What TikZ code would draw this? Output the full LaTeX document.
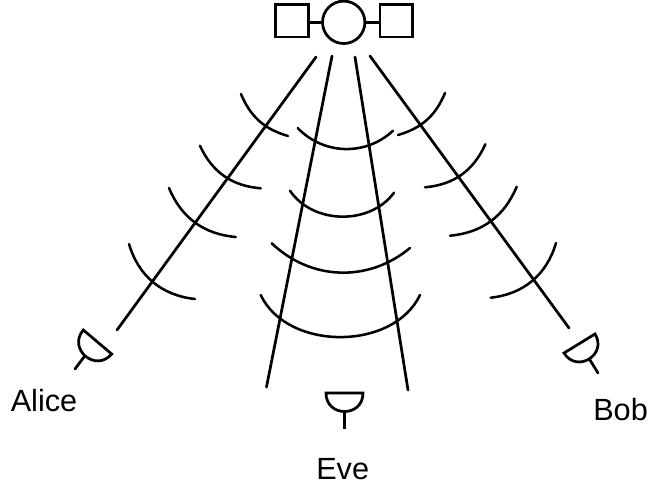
\documentclass[tikz,border=0pt]{standalone}
\usepackage{fontspec}
\setmainfont{Liberation Sans}
\tikzset{
  ink/.style={draw=black,line width=2.05pt,line cap=round,line join=miter},
  thin ink/.style={draw=black,line width=1.9pt,line cap=round},
  panel/.style={ink,rectangle,minimum size=24.4pt,inner sep=0pt,line cap=butt},
  body/.style={ink,circle,minimum size=31.8pt,inner sep=0pt},
  who/.style={anchor=base west,inner sep=0pt,font=\fontsize{23}{25}\selectfont}
}
\begin{document}
\begin{tikzpicture}[x=0.75pt,y=-0.75pt]
\useasboundingbox (0,0) rectangle (650,487);
% satellite
\node[body] (sat) at (343.7,22.3) {};
\node[panel] (pl) at (292,20.7) {};
\node[panel] (pr) at (396.3,20.7) {};
\draw[ink,line cap=butt] (pl.east|-sat.west) -- (sat.west);
\draw[ink,line cap=butt] (sat.east) -- (pr.west|-sat.east);
% beams
\coordinate (b1a) at (316,57);   \coordinate (b1b) at (117,330);
\coordinate (b2a) at (332,56);   \coordinate (b2b) at (266.5,387);
\coordinate (b3a) at (355,57);   \coordinate (b3b) at (408,390);
\coordinate (b4a) at (370,56);   \coordinate (b4b) at (569,328);
\draw[ink] (b1a) -- (b1b);
\draw[ink] (b2a) -- (b2b);
\draw[ink] (b3a) -- (b3b);
\draw[ink] (b4a) -- (b4b);
% left wave fronts
\coordinate (l1a) at (241,94);     \coordinate (l1b) at (288,136);
\coordinate (l2a) at (200,145.7);  \coordinate (l2b) at (260.7,188.3);
\coordinate (l3a) at (169,188);    \coordinate (l3b) at (235.7,237);
\coordinate (l4a) at (129,244);    \coordinate (l4b) at (195,299);
\draw[thin ink] (l1a) to[bend right=25.6] (l1b);
\draw[thin ink] (l2a) to[bend right=30.4] (l2b);
\draw[thin ink] (l3a) to[bend right=31] (l3b);
\draw[thin ink] (l4a) to[bend right=33.6] (l4b);
% centre wave fronts
\coordinate (c1a) at (297.7,128);  \coordinate (c1b) at (393,130.7);
\coordinate (c2a) at (290,190.7);  \coordinate (c2b) at (394,192.7);
\coordinate (c3a) at (271.7,243.3);\coordinate (c3b) at (410,248);
\coordinate (c4a) at (260.7,295);  \coordinate (c4b) at (420,295);
\draw[thin ink] (c1a) to[bend right=44.7] (c1b);
\draw[thin ink] (c2a) to[bend right=54.8] (c2b);
\draw[thin ink] (c3a) to[bend right=41.6] (c3b);
\draw[thin ink] (c4a) to[bend right=64.6] (c4b);
% right wave fronts
\coordinate (r1a) at (445,93);     \coordinate (r1b) at (398,135);
\coordinate (r2a) at (485.3,144.3);\coordinate (r2b) at (425,187.3);
\coordinate (r3a) at (516.7,186.7);\coordinate (r3b) at (450,235.7);
\coordinate (r4a) at (556,243);    \coordinate (r4b) at (490.7,297.7);
\draw[thin ink] (r1a) to[bend left=25.6] (r1b);
\draw[thin ink] (r2a) to[bend left=30.4] (r2b);
\draw[thin ink] (r3a) to[bend left=31] (r3b);
\draw[thin ink] (r4a) to[bend left=33.6] (r4b);
% detectors
\draw[ink,line cap=butt] (83.3,330) -- (111.7,354) .. controls (95.7,372.9) and (67.3,348.9) .. cycle;
\draw[ink] (84,357) -- (75,369);
\draw[ink,line cap=butt] (326,393) -- (363,393) .. controls (363,417.7) and (326,417.7) .. cycle;
\draw[ink,line cap=butt] (344.3,411.5) -- (344.3,429);
\draw[ink,line cap=butt] (595,334) -- (564,353) .. controls (576.7,373.7) and (607.7,354.7) .. cycle;
\draw[ink] (590,360) -- (598,373);
% labels
\node[who] (alice) at (10.5,411.7) {Alice};
\node[who] (eve) at (316,479.5) {Eve};
\node[who] (bob) at (593,420.7) {Bob};
\end{tikzpicture}
\end{document}
